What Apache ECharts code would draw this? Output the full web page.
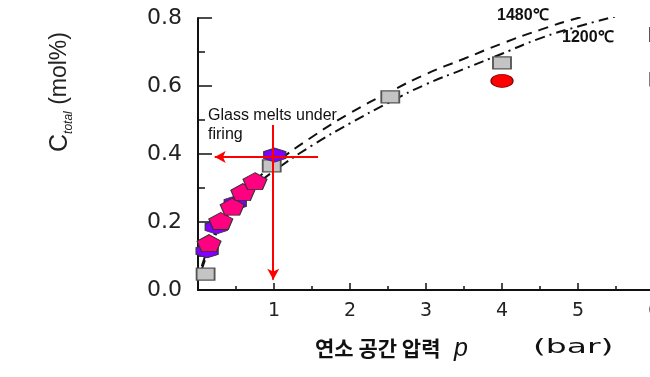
<!DOCTYPE html>
<html>
<head>
<meta charset="utf-8">
<script src="https://cdn.jsdelivr.net/npm/echarts@6/dist/echarts.min.js"></script>
<style>
  html, body { margin: 0; padding: 0; background: #fff; }
  #chart { width: 650px; height: 377px; }
</style>
</head>
<body>
<div id="chart"></div>
<script>
// 측정값 (연소 공간 압력 p [bar], C_total [mol%])
const squarePts = [[0.1, 0.047], [0.97, 0.365], [2.53, 0.568], [4.0, 0.668]];
const ellipsePts = [[4.0, 0.615]];
const hexPts = [[0.12, 0.115], [0.24, 0.185], [0.49, 0.256], [1.01, 0.397]];
const pentPts = [[0.145, 0.138], [0.30, 0.203], [0.45, 0.245], [0.59, 0.288], [0.75, 0.32]];

// 계산 곡선
const curveX = [0.05, 0.25, 0.5, 0.75, 1, 1.5, 2, 2.5, 3, 3.5, 4, 4.5, 5, 5.5];
const curve1480 = [0.07, 0.18, 0.26, 0.32, 0.37, 0.45, 0.52, 0.58, 0.635, 0.68, 0.725, 0.765, 0.80, 0.825];
const curve1200 = [0.06, 0.17, 0.25, 0.305, 0.35, 0.425, 0.49, 0.55, 0.605, 0.65, 0.695, 0.74, 0.775, 0.805];

// 화살표 (Glass melts under firing)
const arrowH = [[1.58, 0.391], [0.22, 0.391]];
const arrowV = [[0.99, 0.485], [0.99, 0.03]];

const xTicks = [0, 1, 2, 3, 4, 5, 6];
const yTicks = [0, 0.2, 0.4, 0.6, 0.8];

const hexPath = 'path://M0,-1 L0.87,-0.5 L0.87,0.5 L0,1 L-0.87,0.5 L-0.87,-0.5 Z';
const pentPath = 'path://M0,-1 L0.95,-0.31 L0.59,0.81 L-0.59,0.81 L-0.95,-0.31 Z';

const chart = echarts.init(document.getElementById('chart'));

const option = {
    animation: false,
    backgroundColor: '#fff',
    grid: { left: 198, top: 18, width: 456, height: 272, outerBoundsMode: 'none', containLabel: false },
    legend: {
        orient: 'vertical',
        left: 644,
        top: 22,
        itemWidth: 18,
        itemHeight: 13,
        itemGap: 30,
        icon: 'rect',
        selectedMode: false,
        textStyle: { fontSize: 14, color: '#111' },
        data: [
            { name: 'square' },
            { name: 'ellipse', itemStyle: { color: '#c4c4c4', borderColor: '#555', borderWidth: 1.5 } }
        ]
    },
    xAxis: {
        type: 'value',
        min: xTicks[0],
        max: xTicks[xTicks.length - 1],
        interval: 1,
        axisLine: { lineStyle: { color: '#111', width: 2 } },
        axisTick: { inside: true, length: 7, lineStyle: { color: '#111', width: 1.5 } },
        minorTick: { show: true, splitNumber: 2, length: 4, lineStyle: { color: '#111', width: 1.5 } },
        splitLine: { show: false },
        axisLabel: {
            showMinLabel: false,
            margin: 12,
            color: '#222',
            fontSize: 19,
            fontFamily: 'DejaVu Sans'
        }
    },
    yAxis: {
        type: 'value',
        min: yTicks[0],
        max: yTicks[yTicks.length - 1],
        interval: 0.2,
        axisLine: { show: true, lineStyle: { color: '#111', width: 2 } },
        axisTick: { show: true, inside: true, length: 14, lineStyle: { color: '#111', width: 1.5 } },
        minorTick: { show: true, splitNumber: 2, length: 7, lineStyle: { color: '#111', width: 1.5 } },
        splitLine: { show: false },
        axisLabel: {
            margin: 16,
            color: '#222',
            fontSize: 22,
            fontFamily: 'DejaVu Sans',
            formatter: function (v) { return v.toFixed(1); }
        }
    },
    series: [
        {
            name: '1480',
            type: 'line',
            smooth: true,
            showSymbol: false,
            data: curveX.map((x, i) => [x, curve1480[i]]),
            lineStyle: { color: '#111', width: 2, type: [10, 7] },
            z: 2
        },
        {
            name: '1200',
            type: 'line',
            smooth: true,
            showSymbol: false,
            data: curveX.map((x, i) => [x, curve1200[i]]),
            lineStyle: { color: '#111', width: 2, type: [10, 5, 2, 5] },
            z: 2
        },
        {
            name: 'square',
            type: 'scatter',
            symbol: 'rect',
            symbolSize: [18, 12],
            data: squarePts,
            itemStyle: { color: '#c4c4c4', borderColor: '#555', borderWidth: 1.5, opacity: 1 },
            z: 3
        },
        {
            name: 'ellipse',
            type: 'scatter',
            symbol: 'circle',
            symbolSize: [22, 13],
            data: ellipsePts,
            itemStyle: { color: '#ff0000', borderColor: '#800000', borderWidth: 1, opacity: 1 },
            z: 3
        },
        {
            name: 'hex',
            type: 'scatter',
            symbol: hexPath,
            symbolSize: [22, 14],
            data: hexPts,
            itemStyle: { color: '#7f00ff', borderColor: '#333', borderWidth: 1, opacity: 1 },
            z: 4
        },
        {
            name: 'pent',
            type: 'scatter',
            symbol: pentPath,
            symbolSize: [24, 17],
            data: pentPts,
            itemStyle: { color: '#ff0080', borderColor: '#333', borderWidth: 1, opacity: 1 },
            z: 5
        },
        {
            name: 'arrows',
            type: 'line',
            data: [],
            z: 6,
            markLine: {
                silent: true,
                symbol: ['none', 'arrow'],
                symbolSize: [9, 11],
                label: { show: false },
                lineStyle: { color: '#ff0000', width: 2, type: 'solid' },
                data: [
                    [{ coord: arrowH[0] }, { coord: arrowH[1] }],
                    [{ coord: arrowV[0] }, { coord: arrowV[1] }]
                ]
            }
        }
    ],
    graphic: [
        {
            type: 'text',
            x: 60,
            y: 92,
            rotation: Math.PI / 2,
            style: {
                text: '{c|C}{s|total}{m| (mol%)}',
                align: 'center',
                verticalAlign: 'middle',
                fill: '#222',
                rich: {
                    c: { fontSize: 25, fontFamily: 'Liberation Sans', lineHeight: 30, verticalAlign: 'middle' },
                    s: { fontSize: 12, fontStyle: 'italic', fontFamily: 'Liberation Sans', lineHeight: 30, verticalAlign: 'bottom' },
                    m: { fontSize: 23, fontFamily: 'Liberation Sans', lineHeight: 30, verticalAlign: 'middle' }
                }
            }
        },
        {
            type: 'text',
            left: 208,
            top: 106,
            style: {
                text: 'Glass melts under\nfiring',
                fill: '#111',
                font: '16px "Liberation Sans"',
                lineHeight: 19
            }
        },
        {
            type: 'text',
            left: 497,
            top: 8,
            style: { text: '1480℃', fill: '#111', font: 'bold 16px "Liberation Sans"' }
        },
        {
            type: 'text',
            left: 562,
            top: 30,
            style: { text: '1200℃', fill: '#111', font: 'bold 16px "Liberation Sans"' }
        },
        {
            type: 'text',
            left: 315,
            top: 338,
            style: { text: '연소 공간 압력', fill: '#111', font: 'bold 21px "Noto Sans CJK KR"' }
        },
        {
            type: 'text',
            left: 454,
            top: 337,
            style: { text: 'p', fill: '#111', font: 'italic 25px "Liberation Sans"' }
        },
        {
            type: 'text',
            x: 533,
            y: 338,
            scaleX: 1.65,
            style: { text: '(bar)', fill: '#111', font: '20px "DejaVu Sans"' }
        }
    ]
};

chart.setOption(option);
</script>
</body>
</html>
